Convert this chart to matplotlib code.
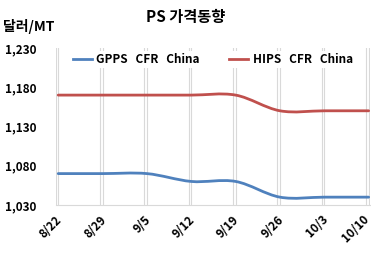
import numpy as np
import matplotlib
matplotlib.use("Agg")
import matplotlib.pyplot as plt
import matplotlib.transforms as mtransforms
from matplotlib.path import Path
from matplotlib.patches import PathPatch
from matplotlib.lines import Line2D

plt.rcParams['font.family'] = ['Noto Sans CJK KR', 'DejaVu Sans']

dates = ["8/22", "8/29", "9/5", "9/12", "9/19", "9/26", "10/3", "10/10"]
gpps = [1070, 1070, 1070, 1060, 1060, 1040, 1040, 1040]
hips = [1170, 1170, 1170, 1170, 1170, 1150, 1150, 1150]
yticks = [1030, 1080, 1130, 1180, 1230]

blue = "#4F81BD"
red = "#C0504D"


def smooth_path(xs, ys):
    # Excel-style smoothed line: cubic bezier through the points
    pts = np.column_stack([xs, ys]).astype(float)
    n = len(pts)
    verts = [pts[0]]
    codes = [Path.MOVETO]
    for i in range(n - 1):
        p0 = pts[i - 1] if i > 0 else pts[i]
        p1 = pts[i]
        p2 = pts[i + 1]
        p3 = pts[i + 2] if i + 2 < n else pts[i + 1]
        c1 = p1 + (p2 - p0) / 6.0
        c2 = p2 - (p3 - p1) / 6.0
        verts += [c1, c2, p2]
        codes += [Path.CURVE4] * 3
    return Path(verts, codes)


fig = plt.figure(figsize=(3.71, 2.58), dpi=100)
ax = fig.add_axes([56 / 371, 1 - 205 / 258, 314 / 371, 157 / 258])

x = np.arange(len(dates))

# vertical gridlines (Excel draws them slightly doubled)
for xi in x:
    ax.axvline(xi, color="#D9D9D9", lw=0.8, zorder=0)
    ax.axvline(xi - 0.06, color="#D9D9D9", lw=0.8, zorder=0)

for vals, col in [(gpps, blue), (hips, red)]:
    ax.add_patch(PathPatch(smooth_path(x, vals), fill=False, edgecolor=col,
                           lw=2.0, capstyle="round", zorder=3))

ax.set_xlim(-0.05, 7.03)
ax.set_ylim(1030, 1230)
ax.set_yticks(yticks)
ax.set_yticklabels([f"{v:,}" for v in yticks], fontsize=8.5, fontweight="bold")
ax.set_xticks(x)
ax.set_xticklabels([])
ax.tick_params(length=0)
ax.tick_params(axis="y", pad=14)

# rotated date labels, anchored at their top-right corner
base = ax.get_xaxis_transform()
for i, (xi, lab) in enumerate(zip(x, dates)):
    dx = -3 if i < len(dates) - 1 else -6
    tr = mtransforms.offset_copy(base, fig=fig, x=dx, y=-8, units="dots")
    ax.text(xi, 0, lab, transform=tr, rotation=45, rotation_mode="anchor",
            ha="right", va="top", fontsize=8.5, fontweight="bold")

for s in ["top", "right", "left"]:
    ax.spines[s].set_visible(False)
ax.spines["bottom"].set_color("#D9D9D9")

handles = [Line2D([], [], color=blue, lw=2.0),
           Line2D([], [], color=red, lw=2.0)]
ax.legend(handles, ["GPPS   CFR   China", "HIPS   CFR   China"],
          loc="upper center", bbox_to_anchor=(0.5, 1.02), ncol=2,
          frameon=True, framealpha=1, edgecolor="none", fancybox=False,
          prop={"size": 8.5, "weight": "bold"}, handlelength=1.6,
          handletextpad=0.4, columnspacing=2.5, borderpad=0.2)

fig.text(186 / 371, 1 - 17 / 258, "PS 가격동향", ha="center", va="center",
         fontsize=11, fontweight="bold")
fig.text(3 / 371, 1 - 26 / 258, "달러/MT", ha="left", va="center",
         fontsize=10, fontweight="bold")

fig.savefig("out.png", dpi=100)
